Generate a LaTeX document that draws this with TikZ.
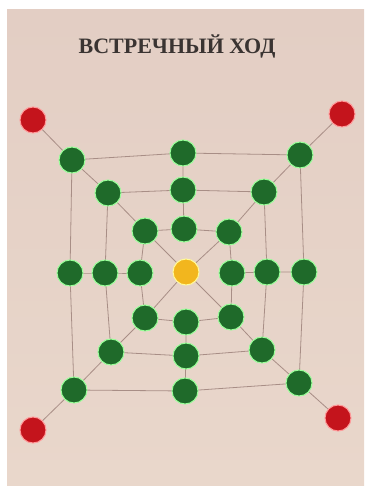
\documentclass[tikz,border=0pt]{standalone}
\usepackage{fontspec}
\setmainfont{Liberation Serif}
\definecolor{board}{HTML}{E3CEC4}
\definecolor{boardlow}{HTML}{E9D7CB}
\definecolor{lineclr}{HTML}{A88E86}
\definecolor{dotgreen}{HTML}{1F6A2A}
\definecolor{dotred}{HTML}{C4141C}
\definecolor{dotyellow}{HTML}{F2B61E}
\definecolor{titleclr}{HTML}{3A3432}
\begin{document}
\begin{tikzpicture}[x=1pt,y=-1pt,
  pt/.style={circle,inner sep=0pt,minimum size=26pt,draw=#1!40!white,line width=1pt,fill=dot#1},
  g/.style={pt=green},
  link/.style={draw=lineclr,line width=0.8pt}]
\useasboundingbox (0,0) rectangle (364,486);
\fill[white] (0,0) rectangle (364,486);
\shade[top color=board,bottom color=boardlow] (7,10) rectangle (364,486);
\node[font=\bfseries\fontsize{22}{26}\selectfont,text=titleclr,inner sep=0pt] (title) at (177,46) {ВСТРЕЧНЫЙ ХОД};
% red corners
\coordinate (rTL) at (33,120);
\coordinate (rTR) at (342,114);
\coordinate (rBL) at (33,430);
\coordinate (rBR) at (338,418);
% outer
\coordinate (oTL) at (72,160); \coordinate (oTM) at (183,153); \coordinate (oTR) at (300,155);
\coordinate (oML) at (70,273); \coordinate (oMR) at (304,272);
\coordinate (oBL) at (74,390); \coordinate (oBM) at (185,391); \coordinate (oBR) at (299,383);
% middle
\coordinate (mTL) at (108,193); \coordinate (mTM) at (183,190); \coordinate (mTR) at (264,192);
\coordinate (mML) at (105,273); \coordinate (mMR) at (267,272);
\coordinate (mBL) at (111,352); \coordinate (mBM) at (186,356); \coordinate (mBR) at (262,350);
% inner
\coordinate (iTL) at (145,231); \coordinate (iTM) at (184,229); \coordinate (iTR) at (229,232);
\coordinate (iML) at (140,273); \coordinate (iMR) at (232,273);
\coordinate (iBL) at (145,318); \coordinate (iBM) at (186,322); \coordinate (iBR) at (231,317);
\coordinate (c) at (186,272);
% lines
\foreach \s in {o,m,i}{
  \path[link] (\s TL) -- (\s TM) -- (\s TR) -- (\s MR) -- (\s BR) -- (\s BM) -- (\s BL) -- (\s ML) -- cycle;
}
\path[link] (rTL) -- (oTL) -- (mTL) -- (iTL) -- (c) -- (iBR) -- (mBR) -- (oBR) -- (rBR);
\path[link] (rTR) -- (oTR) -- (mTR) -- (iTR) -- (c) -- (iBL) -- (mBL) -- (oBL) -- (rBL);
\path[link] (oTM) -- (mTM) -- (iTM);
\path[link] (oBM) -- (mBM) -- (iBM);
\path[link] (oML) -- (mML) -- (iML);
\path[link] (oMR) -- (mMR) -- (iMR);
% dots
\foreach \n in {rTL,rTR,rBL,rBR}{ \node[pt=red] (d\n) at (\n) {}; }
\foreach \s in {o,m,i}{
  \foreach \p in {TL,TM,TR,ML,MR,BL,BM,BR}{ \node[g] (d\s\p) at (\s\p) {}; }
}
\node[pt=yellow] (dc) at (c) {};
\end{tikzpicture}
\end{document}
